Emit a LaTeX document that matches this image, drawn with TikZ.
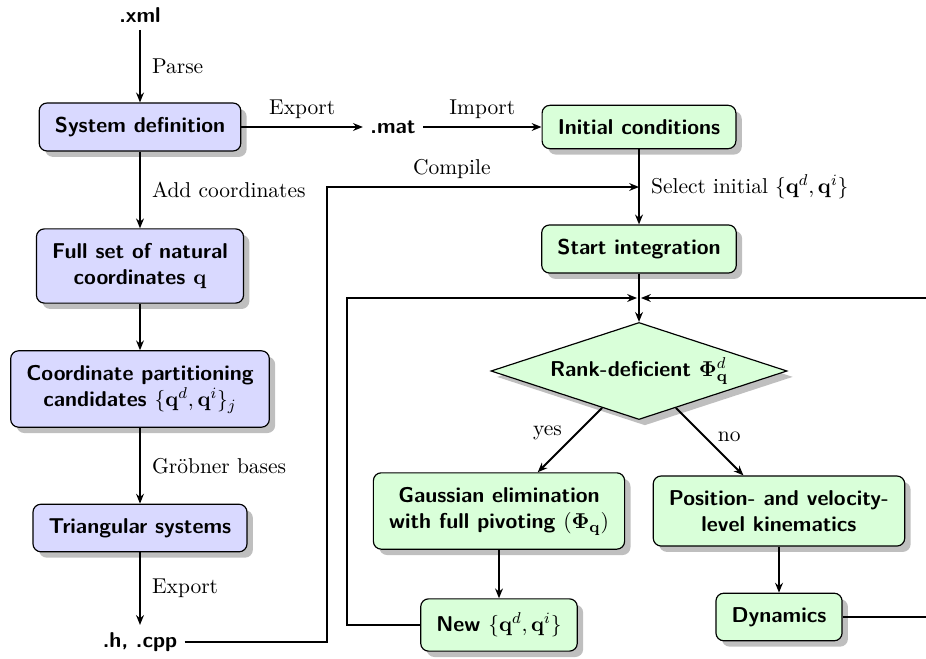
\documentclass[tikz,border=0pt,11pt]{standalone}
\usepackage{amsmath, amssymb}
\usetikzlibrary{shapes.geometric, shadows, arrows.meta}

\begin{document}
\begin{tikzpicture}[x=0.51pt, y=-0.51pt, >={Stealth[length=5pt, width=4pt]},
    box/.style={draw, semithick, rounded corners=4pt, font=\sffamily\bfseries, align=center,
        inner xsep=8pt, inner ysep=7.2pt, drop shadow={shadow xshift=3pt, shadow yshift=-3pt}},
    bluebox/.style={box, fill=blue!15},
    greenbox/.style={box, fill=green!15},
    decision/.style={diamond, draw, semithick, fill=green!15, font=\sffamily\bfseries, aspect=3,
        minimum width=151pt, minimum height=49.5pt, inner sep=1pt,
        drop shadow={shadow xshift=3pt, shadow yshift=-3pt}},
    file/.style={font=\sffamily\bfseries},
    link/.style={->, line width=1pt}]
    \useasboundingbox (0,0) rectangle (926,659);

    % Draw nodes
    \node[file] (xml) at (140,15) {.xml};
    \node[bluebox] (sysdef) at (140,127) {System definition};
    \node[bluebox] (fullset) at (140,266) {Full set of natural\\coordinates $\mathbf{q}$};
    \node[bluebox] (part) at (140,389) {Coordinate partitioning\\candidates $\{\mathbf{q}^d,\mathbf{q}^i\}_j$};
    \node[bluebox] (tri) at (140,528) {Triangular systems};
    \node[file] (cpp) at (140,642) {.h, .cpp};
    \node[file] (mat) at (393,127) {.mat};
    \node[greenbox] (init) at (639,127) {Initial conditions};
    \node[greenbox] (start) at (639,249) {Start integration};
    \node[decision] (rank) at (639,371) {Rank-deficient $\boldsymbol{\Phi}^d_{\mathbf{q}}$};
    \node[greenbox] (gauss) at (499,511) {Gaussian elimination\\with full pivoting $(\boldsymbol{\Phi}_{\mathbf{q}})$};
    \node[greenbox] (kin) at (779,511) {Position- and velocity-\\level kinematics};
    \node[greenbox] (newq) at (499,625) {New $\{\mathbf{q}^d,\mathbf{q}^i\}$};
    \node[greenbox] (dyn) at (779,617) {Dynamics};

    % Corner points
    \coordinate (merge) at (639,298);
    \coordinate (cmerge) at (639,187);
    \coordinate (ccorner) at (327,187);
    \coordinate (lcorner) at (347,298);
    \coordinate (rcorner) at (950,298);

    % Draw connections
    \draw[link] (xml) -- (sysdef) node[midway, right=2pt] {Parse};
    \draw[link] (sysdef) -- (fullset) node[midway, right=2pt] {Add coordinates};
    \draw[link] (fullset) -- (part);
    \draw[link] (part) -- (tri) node[midway, right=2pt] {Gr\"obner bases};
    \draw[link] (tri) -- (cpp) node[midway, right=2pt] {Export};
    \draw[link] (sysdef) -- (mat) node[midway, above] {Export};
    \draw[link] (mat) -- (init) node[midway, above] {Import};
    \draw[link] (init) -- (start) node[midway, right=2pt] {Select initial $\{\mathbf{q}^d,\mathbf{q}^i\}$};
    \draw[link] (cpp) -| (ccorner) -- (cmerge) node[pos=0.4, above] {Compile};
    \draw[link] (start) -- (rank);
    \draw[link] (rank) -- (gauss) node[midway, above left, yshift=-4pt] {yes};
    \draw[link] (rank) -- (kin) node[midway, above right, yshift=-4pt] {no};
    \draw[link] (gauss) -- (newq);
    \draw[link] (kin) -- (dyn);
    \draw[link, shorten >=1pt] (newq) -| (lcorner) -- (merge);
    \draw[link, shorten >=1pt] (dyn) -| (rcorner) -- (merge);
\end{tikzpicture}
\end{document}
